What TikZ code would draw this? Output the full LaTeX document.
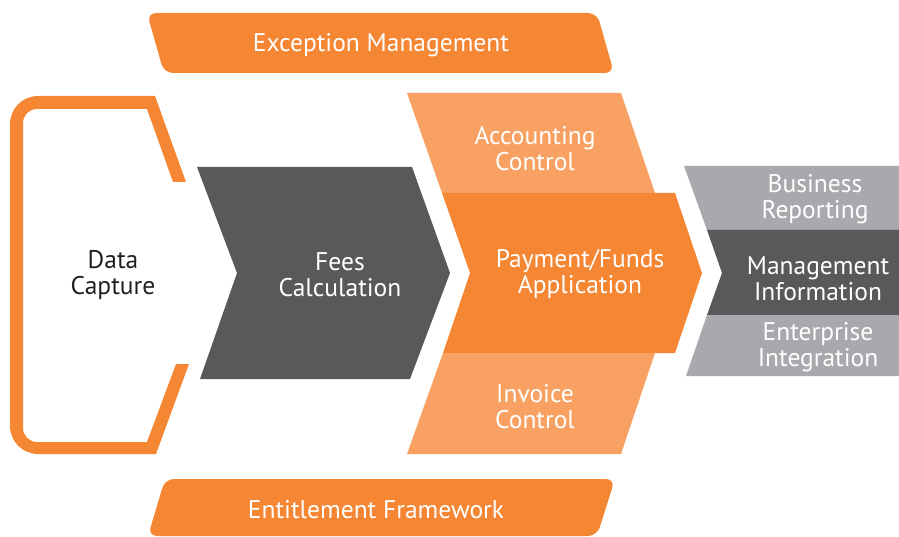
\documentclass[tikz,border=0pt]{standalone}
\usepackage{fontspec}
\setmainfont{PT Sans}
\definecolor{brandorange}{HTML}{F58634}
\definecolor{paleorange}{HTML}{F8A163}
\definecolor{slate}{HTML}{58595B}
\definecolor{silver}{HTML}{A7A9AC}
\definecolor{ink}{HTML}{231F20}

\begin{document}
\begin{tikzpicture}[x=1pt, y=-1pt,
  caption/.style={text=white, align=center, inner sep=0pt,
    font=\fontsize{25.5}{26}\selectfont},
  banner/.style={fill=brandorange, rounded corners=9pt}]
\useasboundingbox (0,0) rectangle (899,537);
\fill[banner] (147,13) -- (597,13) -- (614,73) -- (164,73) -- cycle;
\fill[banner] (165,479) -- (615,479) -- (597,536) -- (148,536) -- cycle;
\fill[brandorange] (186,182) -- (155,96) -- (38,96)
  arc[start angle=270, end angle=180, radius=28] -- (10,426)
  arc[start angle=180, end angle=90, radius=28] -- (156,454) -- (189,364)
  -- (176,364) -- (147,442) -- (37,442)
  arc[start angle=90, end angle=180, radius=14] -- (23,123)
  arc[start angle=180, end angle=270, radius=14] -- (147,109) -- (173,182) -- cycle;
\fill[slate] (197,167) -- (412,167) -- (450,273) -- (410,379) -- (200,379) -- (237,273) -- cycle;
\fill[paleorange] (407,93) -- (621,93) -- (655,193) -- (442,193) -- cycle;
\fill[brandorange] (442,193) -- (675,193) -- (702,273) -- (675,353) -- (443,353) -- (470,273) -- cycle;
\fill[paleorange] (443,353) -- (655,353) -- (621,454) -- (407,454) -- cycle;
\fill[silver] (684,166) -- (899,166) -- (899,230) -- (707,230) -- cycle;
\fill[slate] (707,230) -- (899,230) -- (899,315) -- (707,315) -- (722,273) -- cycle;
\fill[silver] (707,315) -- (899,315) -- (899,376) -- (686,376) -- cycle;
\node[caption] (exception) at (381,45) {Exception Management};
\node[caption, text=ink] (capture) at (113,275) {Data\\Capture};
\node[caption] (fees) at (340,275) {Fees\\Calculation};
\node[caption] (accounting) at (535,149) {Accounting\\Control};
\node[caption] (payment) at (580,274) {Payment/Funds\\Application};
\node[caption] (invoice) at (535,407) {Invoice\\Control};
\node[caption] (reporting) at (815,199) {Business\\Reporting};
\node[caption] (mis) at (818,279) {Management\\Information};
\node[caption] (integration) at (818,347) {Enterprise\\Integration};
\node[caption] (entitlement) at (376,510) {Entitlement Framework};
\end{tikzpicture}
\end{document}
